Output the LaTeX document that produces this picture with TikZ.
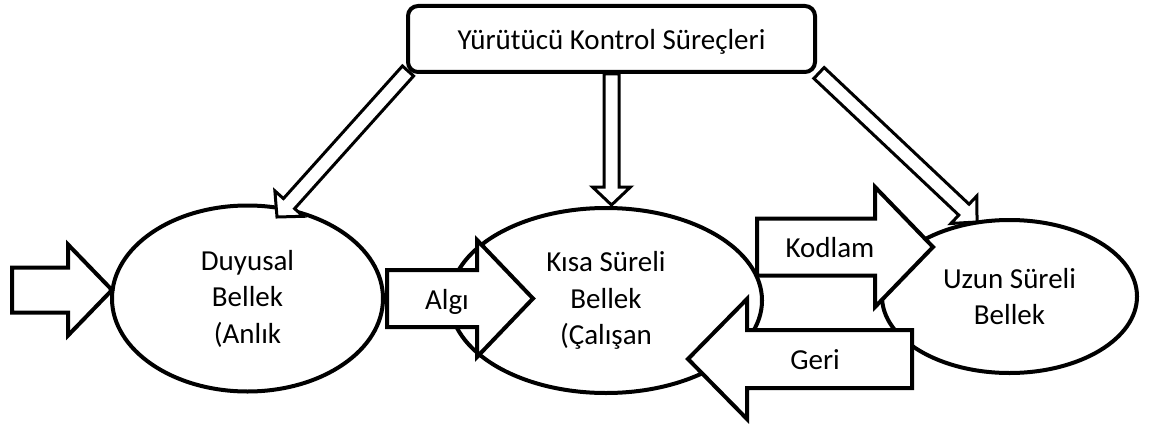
\documentclass[tikz,border=0pt]{standalone}
\usepackage{fontspec}
\setmainfont{Carlito}
\usetikzlibrary{shapes.geometric,calc}
\pgfdeclarelayer{front}
\pgfsetlayers{main,front}

% one pixel of the layout = 1pt, y grows downwards
\tikzset{
  x=1pt, y=-1pt,
  txt/.style={font=\fontsize{29}{36.5}\selectfont},
  mem/.style={ellipse, draw, line width=4pt, fill=white, inner sep=0pt, align=center, txt},
  ctrlbox/.style={rectangle, rounded corners=10pt, draw, line width=4pt, fill=white,
    minimum width=407pt, minimum height=66pt, text height=22pt, text depth=0pt, txt},
  fatarrow/.style={draw, line width=4pt, fill=white, line join=miter},
  thinarrow/.style={draw, line width=3pt, fill=white, line join=miter},
  lbl/.style={inner sep=0pt, anchor=base, txt},
}

% block arrow: shaft end x, head base x, tip x, axis y, shaft half width, head half width
\newcommand\blockarrow[6]{%
  \draw[fatarrow] (#1,#4-#5) -- (#2,#4-#5) -- (#2,#4-#6) -- (#3,#4)
    -- (#2,#4+#6) -- (#2,#4+#5) -- (#1,#4+#5) -- cycle;}

% hollow thin arrow from coordinate #1 to coordinate #2
\newcommand\hollowarrow[2]{%
  \coordinate (hb) at ($(#2)!18pt!(#1)$);
  \draw[thinarrow] ($(#1)!7.5pt!90:(#2)$) -- ($(hb)!7.5pt!90:(#2)$)
    -- ($(hb)!19pt!90:(#2)$) -- (#2) -- ($(hb)!19pt!-90:(#2)$)
    -- ($(hb)!7.5pt!-90:(#2)$) -- ($(#1)!7.5pt!-90:(#2)$) -- cycle;}

\begin{document}
\begin{tikzpicture}
\useasboundingbox[fill=white] (0,0) rectangle (1150,425);

% control box, kept above the arrows that leave it
\begin{pgfonlayer}{front}
  \node[ctrlbox] (ctrl) at (611.5,39) {Yürütücü Kontrol Süreçleri};
\end{pgfonlayer}

% memory stores
\node[mem, minimum width=271pt, minimum height=186pt] (duy) at (247.5,298.5) {Duyusal\\Bellek\\(Anlık};
\node[mem, minimum width=312pt, minimum height=185pt] (kisa) at (606,300.5) {Kısa Süreli\\Bellek\\(Çalışan};
\node[mem, minimum width=255pt, minimum height=153pt] (uzun) at (1009.5,296.5) {Uzun Süreli\\Bellek};

% information flow
\blockarrow{12}{68}{112}{290}{22.5}{45.5}
\blockarrow{387}{477}{533}{298.5}{28.5}{58.5}
\node[lbl] (algi) at (447,309) {Algı};
\blockarrow{757}{875}{933}{247}{28.5}{60}
\node[lbl] (kodlam) at (830,257) {Kodlam};
\blockarrow{912}{747}{688}{359}{29}{60}
\node[lbl] (geri) at (815,369) {Geri};

% control links
\coordinate (srcL) at ($(ctrl.south west)+(2,-3)$);
\coordinate (srcR) at ($(ctrl.south east)+(2,-1)$);
\coordinate (tipL) at ($(duy.center)+(29.5,-81.5)$);
\coordinate (tipM) at ($(ctrl.south |- kisa.north)+(0,-1)$);
\coordinate (tipR) at ($(uzun.center)+(-32.5,-74.5)$);
\hollowarrow{srcL}{tipL}
\hollowarrow{ctrl.south}{tipM}
\hollowarrow{srcR}{tipR}
\end{tikzpicture}
\end{document}
